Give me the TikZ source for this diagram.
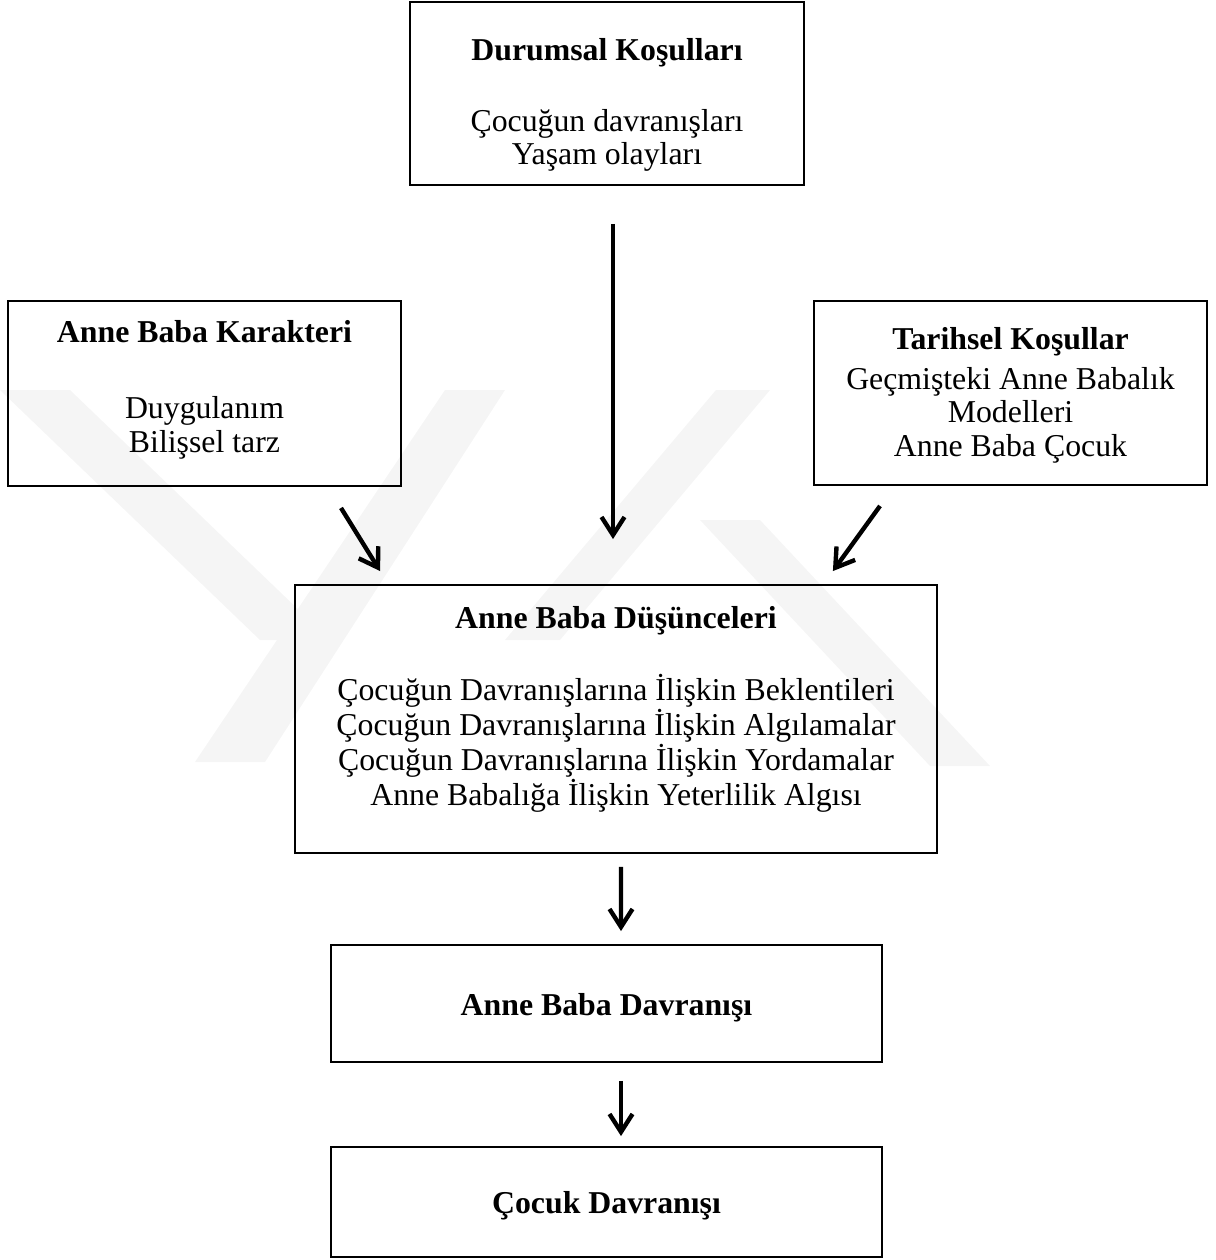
\documentclass[tikz,border=0pt]{standalone}
\usepackage{fontspec}
\setmainfont{Liberation Serif}
\usepackage{tikz}
\usetikzlibrary{arrows.meta}

\tikzset{
  kutu/.style = {draw, line width = 1.1pt, inner sep = 0pt},
  yazi/.style = {anchor = base, align = center, inner sep = 0pt, font = \fontsize{18.1}{18.8}\selectfont},
  ok/.style = {line width = 2.5pt, -{Straight Barb[length = 3.6mm, width = 4.6mm]}},
  filigran/.style = {fill = black!4, draw = none}
}

\begin{document}
\begin{tikzpicture}[x = 0.02cm, y = -0.02cm]
  \useasboundingbox (0, 0) rectangle (1216, 1260);
  \fill [filigran] (0, 390) -- (70, 390) -- (330, 640) -- (260, 640) -- cycle;
  \fill [filigran] (445, 390) -- (505, 390) -- (265, 762) -- (195, 762) -- cycle;
  \fill [filigran] (716, 390) -- (770, 390) -- (560, 640) -- (505, 640) -- cycle;
  \fill [filigran] (700, 520) -- (760, 520) -- (990, 766) -- (930, 766) -- cycle;

  \node [kutu, minimum width = 7.88cm, minimum height = 3.66cm] (durum) at (607, 93.5) {};
  \node [kutu, minimum width = 7.86cm, minimum height = 3.7cm] (karakter) at (204.5, 393.5) {};
  \node [kutu, minimum width = 7.86cm, minimum height = 3.68cm] (tarih) at (1010.5, 393) {};
  \node [kutu, minimum width = 12.84cm, minimum height = 5.36cm] (dusunce) at (616, 719) {};
  \node [kutu, minimum width = 11.02cm, minimum height = 2.34cm] (davranis) at (606.5, 1003.5) {};
  \node [kutu, minimum width = 11.02cm, minimum height = 2.2cm] (cocuk) at (606.5, 1202) {};

  \node [yazi] (durumT) at (607, 165) {\textbf{Durumsal Koşulları}\\[22pt] Çocuğun davranışları\\ Yaşam olayları};
  \node [yazi] (karakterT) at (204.5, 452) {\textbf{Anne Baba Karakteri}\\[25pt] Duygulanım\\ Bilişsel tarz};
  \node [yazi] (tarihT) at (1010.5, 456) {\textbf{Tarihsel Koşullar}\\[4.5pt] Geçmişteki Anne Babalık\\ Modelleri\\ Anne Baba Çocuk};
  \node [yazi] (dusunceT) at (616, 805) {\textbf{Anne Baba Düşünceleri}\\[22pt] Çocuğun Davranışlarına İlişkin Beklentileri\\ Çocuğun Davranışlarına İlişkin Algılamalar\\ Çocuğun Davranışlarına İlişkin Yordamalar\\ Anne Babalığa İlişkin Yeterlilik Algısı};
  \node [yazi] (davranisT) at (606.5, 1015) {\textbf{Anne Baba Davranışı}};
  \node [yazi] (cocukT) at (606.5, 1213) {\textbf{Çocuk Davranışı}};

  \draw [ok] ([shift = {(6, 38)}] durum.south) -- ([shift = {(-3, -45)}] dusunce.north);
  \draw [ok] ([shift = {(136.5, 21)}] karakter.south) -- ([shift = {(86, -13)}] dusunce.north west);
  \draw [ok] ([shift = {(-130.5, 20)}] tarih.south) -- ([shift = {(-105, -13)}] dusunce.north east);
  \draw [ok] ([shift = {(5, 13)}] dusunce.south) -- ([shift = {(14.5, -13)}] davranis.north);
  \draw [ok] ([shift = {(14.5, 18)}] davranis.south) -- ([shift = {(14.5, -10)}] cocuk.north);
\end{tikzpicture}
\end{document}
